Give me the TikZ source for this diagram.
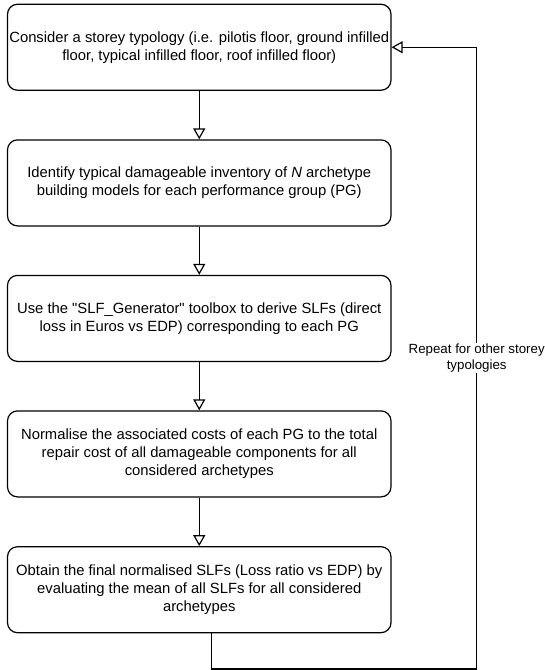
\documentclass[tikz,border=0pt]{standalone}
\usepackage{fontspec}
\setmainfont{Liberation Sans}
\usetikzlibrary{arrows.meta}
\begin{document}
\begin{tikzpicture}[x=1pt,y=-1pt,
  stepbox/.style={draw=black, line width=1.2pt, rounded corners=10pt, minimum width=383.5pt, minimum height=86pt, inner sep=0pt, align=center, font=\fontsize{14.8}{18}\selectfont},
  flow/.style={draw=black, line width=1.2pt, -{Triangle[open, length=11pt, width=12pt, line width=1.2pt]}},
  looplabel/.style={fill=white, inner sep=1pt, align=center, font=\fontsize{13.3}{16}\selectfont}]
\useasboundingbox (0,0) rectangle (545,670);
\node[stepbox] (b1) at (199.25,47.25) {Consider a storey typology (i.e. pilotis floor, ground infilled\\floor, typical infilled floor, roof infilled floor)};
\node[stepbox] (b2) at (199.25,182.9) {Identify typical damageable inventory of \textit{N} archetype\\building models for each performance group (PG)};
\node[stepbox] (b3) at (199.25,318.4) {Use the \textquotedbl SLF\_Generator\textquotedbl{} toolbox to derive SLFs (direct\\loss in Euros vs EDP) corresponding to each PG};
\node[stepbox] (b4) at (199.25,453.9) {Normalise the associated costs of each PG to the total\\repair cost of all damageable components for all\\considered archetypes};
\node[stepbox] (b5) at (199.25,589.7) {Obtain the final normalised SLFs (Loss ratio vs EDP) by\\evaluating the mean of all SLFs for all considered\\archetypes};
\draw[flow] (b1) -- (b2);
\draw[flow] (b2) -- (b3);
\draw[flow] (b3) -- (b4);
\draw[flow] (b4) -- (b5);
\coordinate (r1) at (211.7,669);
\coordinate (r2) at (476.7,669);
\coordinate (r3) at (476.7,47.25);
\draw[flow] (b5.south -| r1) -- (r1) -- (r2) -- node[looplabel] {Repeat for other storey\\typologies} (r3) -- (b1.east);
\end{tikzpicture}
\end{document}
